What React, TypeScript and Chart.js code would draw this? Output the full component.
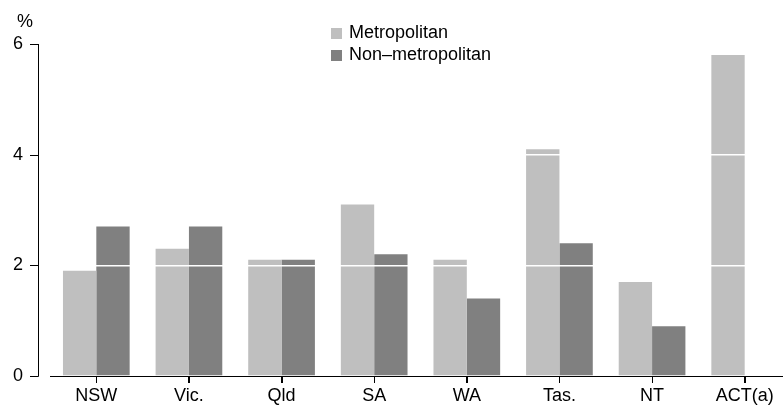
import React, { useEffect, useRef } from "react";
import { Chart, registerables } from "chart.js";

Chart.register(...registerables);

const categories = ["NSW", "Vic.", "Qld", "SA", "WA", "Tas.", "NT", "ACT(a)"];
const metropolitan = [1.9, 2.3, 2.1, 3.1, 2.1, 4.1, 1.7, 5.8];
const nonMetropolitan: (number | null)[] = [2.7, 2.7, 2.1, 2.2, 1.4, 2.4, 0.9, null];
const seriesNames = ["Metropolitan", "Non-metropolitan"];
const legendLabels = ["Metropolitan", "Non\u2013metropolitan"];
const yTicks = [0, 2, 4, 6];
const unitLabel = "%";

const METRO_COLOR = "#bfbfbf";
const NONMETRO_COLOR = "#808080";
const FONT = 'Arial, "Liberation Sans", sans-serif';

export default function App() {
  const ref = useRef<HTMLCanvasElement | null>(null);

  useEffect(() => {
    document.body.style.margin = "0";
    document.body.style.overflow = "hidden";
    const canvas = ref.current;
    if (!canvas) return;

    const overlay = {
      id: "overlay",
      afterDraw(chart: any) {
        const ctx = chart.ctx;
        const y = chart.scales.y;
        const x = chart.scales.x;
        const axisX = 38.5;
        ctx.save();
        ctx.strokeStyle = "#000";
        ctx.lineWidth = 1;
        ctx.beginPath();
        ctx.moveTo(axisX, y.getPixelForValue(6));
        ctx.lineTo(axisX, y.getPixelForValue(0) + 0.5);
        yTicks.forEach((v) => {
          const py = Math.round(y.getPixelForValue(v)) + 0.5;
          ctx.moveTo(30, py);
          ctx.lineTo(axisX, py);
        });
        const bottom = Math.round(chart.chartArea.bottom);
        categories.forEach((_, i) => {
          const px = Math.round(x.getPixelForValue(i)) + 0.5;
          ctx.moveTo(px, bottom);
          ctx.lineTo(px, bottom + 7);
        });
        ctx.stroke();

        ctx.fillStyle = "#000";
        ctx.font = `18px ${FONT}`;
        ctx.textAlign = "center";
        ctx.textBaseline = "middle";
        ctx.fillText(unitLabel, 25, 22);

        const colors = [METRO_COLOR, NONMETRO_COLOR];
        legendLabels.forEach((lab, i) => {
          const cy = 33.5 + i * 22;
          ctx.fillStyle = colors[i];
          ctx.fillRect(331, cy - 5.5, 11, 11);
          ctx.fillStyle = "#000";
          ctx.textAlign = "left";
          ctx.fillText(lab, 349, cy);
        });
        ctx.restore();
      },
    };

    const chart = new Chart(canvas, {
      type: "bar",
      data: {
        labels: categories,
        datasets: [
          {
            label: seriesNames[0],
            data: metropolitan,
            backgroundColor: METRO_COLOR,
            borderWidth: 0,
            categoryPercentage: 0.72,
            barPercentage: 1,
          },
          {
            label: seriesNames[1],
            data: nonMetropolitan,
            backgroundColor: NONMETRO_COLOR,
            borderWidth: 0,
            categoryPercentage: 0.72,
            barPercentage: 1,
          },
        ],
      },
      options: {
        animation: false,
        responsive: false,
        devicePixelRatio: 1,
        layout: { padding: { top: 44, right: 9, left: 0, bottom: 0 } },
        plugins: {
          legend: { display: false },
          tooltip: { enabled: false },
        },
        scales: {
          x: {
            grid: {
              offset: false,
              drawOnChartArea: false,
              drawTicks: true,
              tickLength: 7,
              color: "#000",
              tickColor: "#000",
              lineWidth: 1,
            },
            border: { display: true, color: "#000", width: 1 },
            ticks: {
              color: "#000",
              font: { family: FONT, size: 18 },
              padding: 2,
              maxRotation: 0,
              autoSkip: false,
            },
            afterFit: (scale: any) => {
              scale.height = 32;
            },
          },
          y: {
            min: 0,
            max: 6,
            grid: {
              z: 1,
              drawTicks: true,
              tickLength: 21,
              tickColor: "rgba(0,0,0,0)",
              lineWidth: 1.5,
              color: (c: any) =>
                c.tick && (c.tick.value === 2 || c.tick.value === 4)
                  ? "#ffffff"
                  : "rgba(0,0,0,0)",
            },
            border: { display: false },
            ticks: {
              stepSize: 2,
              color: "#000",
              font: { family: FONT, size: 18 },
              padding: 6,
            },
            afterFit: (scale: any) => {
              scale.width = 50;
            },
          },
        },
      },
      plugins: [overlay],
    });

    return () => chart.destroy();
  }, []);

  return (
    <div
      style={{
        position: "fixed",
        left: 0,
        top: 0,
        width: 783,
        height: 408,
        overflow: "hidden",
        background: "#fff",
      }}
    >
      <canvas ref={ref} width={800} height={408} style={{ display: "block" }} />
    </div>
  );
}
